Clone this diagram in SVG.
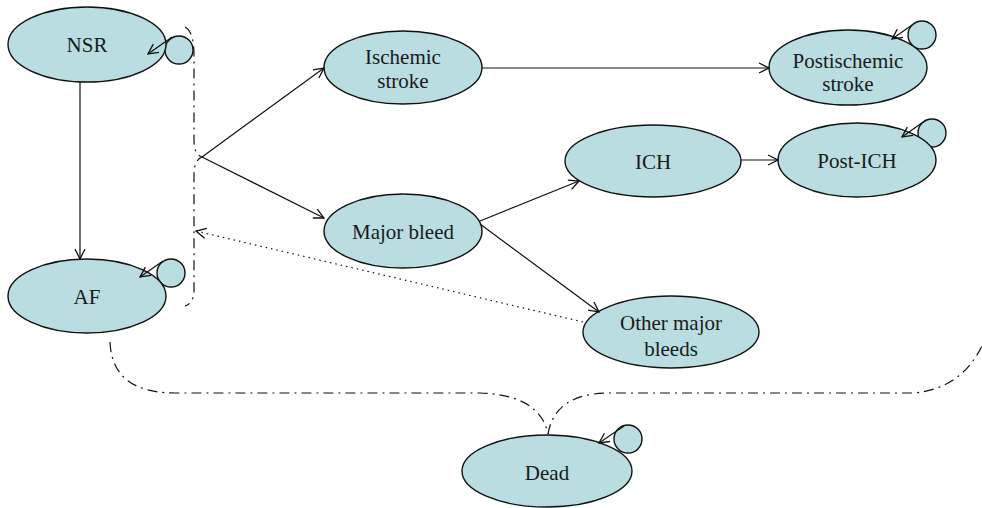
<svg xmlns="http://www.w3.org/2000/svg" width="982" height="508" viewBox="0 0 982 508">
<style>
.node ellipse,.node circle{fill:#b9dde0;stroke:#111;stroke-width:1.4}
.node text{font-family:"Liberation Serif","Times New Roman",serif;font-size:21px;fill:#1a1a1a;text-anchor:middle}
.c{fill:none;stroke:#111;stroke-width:1.2}
.a{marker-end:url(#arr)}
.dot{stroke-dasharray:1.5 4}
.dd{stroke-dasharray:10 5 2 5}
</style>
<defs>
<marker id="arr" viewBox="0 0 12 12" refX="11" refY="6" markerWidth="12" markerHeight="12" markerUnits="userSpaceOnUse" orient="auto">
<path d="M1,1 L11,6 L1,11" fill="none" stroke="#111" stroke-width="1.3"/>
</marker>
</defs>
<rect width="982" height="508" fill="#fff"/>
<g id="nsr" class="node">
<circle cx="179" cy="50" r="14"/>
<ellipse cx="87" cy="44.5" rx="79" ry="37.5"/>
<text x="87" y="52">NSR</text>
</g>
<g id="af" class="node">
<circle cx="171" cy="273" r="14"/>
<ellipse cx="87" cy="296" rx="79" ry="37"/>
<text x="87" y="304">AF</text>
</g>
<g id="ischemic" class="node">
<ellipse cx="403" cy="67.5" rx="79" ry="36.5"/>
<text x="403" y="64">Ischemic</text>
<text x="403" y="88">stroke</text>
</g>
<g id="major" class="node">
<ellipse cx="403" cy="231" rx="79" ry="37"/>
<text x="403" y="239">Major bleed</text>
</g>
<g id="postischemic" class="node">
<circle cx="922" cy="35" r="14"/>
<ellipse cx="848" cy="67.5" rx="79" ry="37.5"/>
<text x="848" y="68">Postischemic</text>
<text x="848" y="91">stroke</text>
</g>
<g id="ich" class="node">
<ellipse cx="653" cy="161" rx="88" ry="36"/>
<text x="653" y="169">ICH</text>
</g>
<g id="postich" class="node">
<circle cx="932" cy="133" r="14"/>
<ellipse cx="857" cy="160" rx="79" ry="37"/>
<text x="857" y="168">Post-ICH</text>
</g>
<g id="other" class="node">
<ellipse cx="671" cy="332" rx="88" ry="36"/>
<text x="671" y="330">Other major</text>
<text x="671" y="356">bleeds</text>
</g>
<g id="dead" class="node">
<circle cx="628" cy="439" r="14"/>
<ellipse cx="547" cy="471" rx="85" ry="36"/>
<text x="547" y="480">Dead</text>
</g>
<g id="connectors">
<line class="c a" x1="80" y1="82" x2="80" y2="259"/>
<path class="c dd" d="M185,27 Q194,32 194,55 L194,140 Q194,155 202,157 Q194,160 194,175 L194,290 Q194,303 185,306"/>
<line class="c a" x1="202" y1="157" x2="324" y2="68"/>
<line class="c a" x1="202" y1="157" x2="324" y2="218"/>
<line class="c a" x1="482" y1="68" x2="769" y2="68"/>
<line class="c a" x1="480" y1="221" x2="579" y2="181"/>
<line class="c a" x1="480" y1="224" x2="599" y2="312"/>
<line class="c a" x1="741" y1="160" x2="778" y2="160"/>
<line class="c a dot" x1="583" y1="322" x2="196" y2="231"/>
<path class="c dd" d="M110,342 Q112,393 175,393 L480,393 Q540,395 548,434"/>
<path class="c dd" d="M548,434 Q555,393 610,393 L912,393 Q960,390 982,346"/>
<line class="c a" x1="172" y1="37" x2="148" y2="54"/>
<line class="c a" x1="163" y1="261" x2="140" y2="277"/>
<line class="c a" x1="915" y1="23" x2="892" y2="39"/>
<line class="c a" x1="926" y1="120" x2="902" y2="137"/>
<line class="c a" x1="624" y1="426" x2="599" y2="443"/>
</g>
</svg>
